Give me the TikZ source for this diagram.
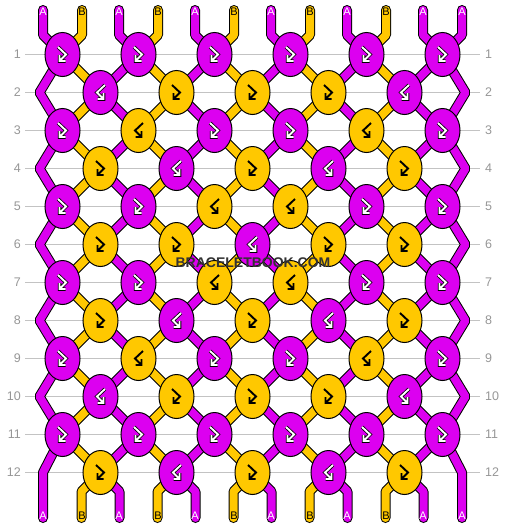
\documentclass[tikz,border=0pt]{standalone}
\usepackage{fontspec}
\setmainfont{Liberation Sans}
\usetikzlibrary{shapes.geometric}
\definecolor{c1}{RGB}{220,0,240}
\definecolor{c0}{RGB}{255,200,0}
\definecolor{g1}{RGB}{255,255,255}
\definecolor{g0}{RGB}{0,0,0}
\definecolor{o1}{RGB}{0,0,0}
\definecolor{o0}{RGB}{255,200,0}
\definecolor{rowgray}{RGB}{195,195,195}
\definecolor{numgray}{RGB}{150,150,150}
\definecolor{wmark}{RGB}{50,50,50}
\pgfdeclarelayer{bg}
\pgfsetlayers{bg,main}
\tikzset{
  knot/.style={ellipse, draw=black, line width=1pt, minimum width=35pt, minimum height=44pt, inner sep=0pt},
  strand/.style={draw=black, line width=1pt, double distance=8pt, line join=bevel},
  strandA/.style={strand, double=c1},
  strandB/.style={strand, double=c0},
  glyph/.style={line width=1.9pt, line cap=butt, line join=miter},
  rowline/.style={draw=rowgray, line width=0.8pt},
  rownum/.style={font=\fontsize{12.5}{12.5}\selectfont, text=numgray, inner sep=0pt},
  endlab/.style={font=\fontsize{11}{11}\selectfont, inner sep=0pt},
}
\begin{document}
\begin{tikzpicture}[x=1pt,y=-1pt]
\useasboundingbox (0,0) rectangle (506,528);
% knots
\foreach \r/\cols in {1/{1,1,1,1,1,1},2/{1,0,0,0,1},3/{1,0,1,1,0,1},4/{0,1,0,1,0},
  5/{1,1,0,0,1,1},6/{0,0,1,0,0},7/{1,1,0,0,1,1},8/{0,1,0,1,0},
  9/{1,0,1,1,0,1},10/{1,0,0,0,1},11/{1,1,1,1,1,1},12/{0,1,0,1,0}}{
  \pgfmathtruncatemacro\p{mod(\r,2)}
  \pgfmathsetmacro\y{54.5+38*(\r-1)}
  \foreach \k [count=\c from 0] in \cols {
    \pgfmathsetmacro\x{\p==1 ? 62.5+76*\c : 100.5+76*\c}
    \pgfmathtruncatemacro\s{\p==\k ? 1 : -1}
    \node[knot, fill=c\k] (k\r-\c) at (\x,\y) {};
    \draw[glyph, draw=g\k, preaction={draw=o\k, line width=3.5pt}, shift={(\x,\y)}, xscale=\s]
      (-4.5,-7.5) -- (3.5,0) -- (-3,6.5) (-3,0.5) -- (-3,6.5) -- (3,6.5);
  }
}
% row labels
\foreach \r in {1,...,12}{
  \pgfmathsetmacro\y{54.5+38*(\r-1)}
  \node[rownum, anchor=east] (ll\r) at (21,\y) {\r};
  \node[rownum, anchor=west] (rl\r) at (485,\y) {\r};
}
\begin{pgfonlayer}{bg}
\foreach \r in {1,...,12}{
  \draw[rowline, shorten <=4pt, shorten >=5pt] (ll\r.east) -- (rl\r.west);
}
% top strands
\foreach \c in {0,...,5}{
  \pgfmathsetmacro\xa{43+76*\c}
  \pgfmathsetmacro\xb{82+76*\c}
  \coordinate (ta\c) at (\xa,10); \coordinate (tab\c) at (\xa,35);
  \coordinate (tb\c) at (\xb,10); \coordinate (tbb\c) at (\xb,35);
  \draw[strandA, line cap=round] (ta\c) -- (tab\c) -- (k1-\c.center);
}
\foreach \c in {0,...,4}{
  \draw[strandB, line cap=round] (tb\c) -- (tbb\c) -- (k1-\c.center);
}
\draw[strandA, line cap=round] (tb5) -- (tbb5) -- (k1-5.center);
% between rows
\foreach \r in {1,3,5,7,9,11}{
  \pgfmathtruncatemacro\n{\r+1}
  \foreach \c in {0,...,4}{
    \pgfmathtruncatemacro\d{\c+1}
    \draw[strandB] (k\r-\c.center) -- (k\n-\c.center);
    \draw[strandA] (k\r-\d.center) -- (k\n-\c.center);
  }
}
\foreach \r in {2,4,6,8,10}{
  \pgfmathtruncatemacro\n{\r+1}
  \foreach \c in {0,...,4}{
    \pgfmathtruncatemacro\d{\c+1}
    \draw[strandB] (k\r-\c.center) -- (k\n-\c.center);
    \draw[strandA] (k\r-\c.center) -- (k\n-\d.center);
  }
}
% edges
\foreach \r in {2,4,6,8,10}{
  \pgfmathtruncatemacro\a{\r-1}
  \pgfmathtruncatemacro\b{\r+1}
  \pgfmathsetmacro\y{54.5+38*(\r-1)}
  \coordinate (L\r) at (39.5,\y);
  \coordinate (R\r) at (465.5,\y);
  \draw[strandA] (k\a-0.center) -- (L\r) -- (k\b-0.center);
  \draw[strandA] (k\a-5.center) -- (R\r) -- (k\b-5.center);
}
% bottom
\coordinate (L12) at (43,472.5); \coordinate (Lend) at (43,518);
\coordinate (R12) at (462,472.5); \coordinate (Rend) at (462,518);
\draw[strandA, line cap=round] (k11-0.center) -- (L12) -- (Lend);
\draw[strandA, line cap=round] (k11-5.center) -- (R12) -- (Rend);
\foreach \c in {0,...,4}{
  \pgfmathsetmacro\xb{81.5+76*\c}
  \pgfmathsetmacro\xa{119.5+76*\c}
  \coordinate (bb\c) at (\xb,491.5); \coordinate (bbe\c) at (\xb,518);
  \coordinate (ba\c) at (\xa,491.5); \coordinate (bae\c) at (\xa,518);
  \draw[strandB, line cap=round] (k12-\c.center) -- (bb\c) -- (bbe\c);
  \draw[strandA, line cap=round] (k12-\c.center) -- (ba\c) -- (bae\c);
}
\end{pgfonlayer}
% end labels
\foreach \c in {0,...,5}{
  \pgfmathsetmacro\xa{43+76*\c}
  \node[endlab, text=white] (lta\c) at (\xa,12) {A};
  \node[endlab, text=white] (lba\c) at (\xa,516) {A};
}
\foreach \c in {0,...,4}{
  \pgfmathsetmacro\xb{82+76*\c}
  \node[endlab, text=black] (ltb\c) at (\xb,12) {B};
  \node[endlab, text=black] (lbb\c) at (\xb,516) {B};
}
\node[endlab, text=white] (ltb5) at (462,12) {A};
\node[endlab, text=white] (lbb5) at (462,516) {A};
% watermark
\node[font=\bfseries\fontsize{14}{14}\selectfont, text=wmark, inner sep=0pt] (wm) at (253,263) {BRACELETBOOK.COM};
\end{tikzpicture}
\end{document}
